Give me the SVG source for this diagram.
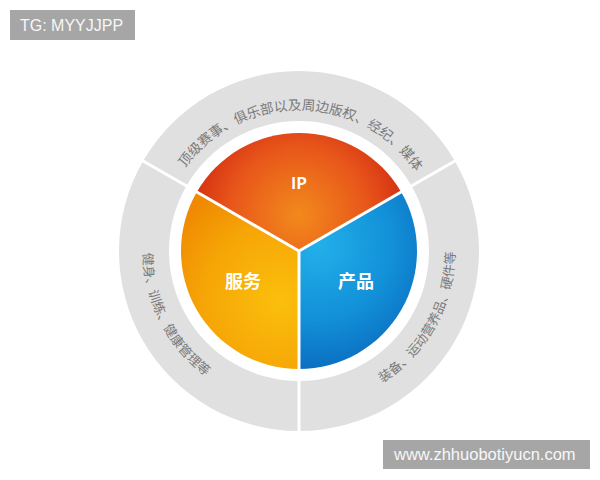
<svg xmlns="http://www.w3.org/2000/svg" width="600" height="480" viewBox="0 0 600 480">
<style>
.arc{font-family:"Noto Sans CJK SC","Noto Sans",sans-serif;fill:#7a7a7a;}
.lbl{font-family:"Noto Sans CJK SC","Noto Sans",sans-serif;font-weight:bold;fill:#ffffff;text-anchor:middle;}
.tag{font-family:"Liberation Sans",Arial,sans-serif;fill:#f7f7f7;}
.sep{stroke:#ffffff;stroke-width:3;fill:none;}
</style>
<defs>
<radialGradient id="gIP" gradientUnits="userSpaceOnUse" cx="299" cy="215" r="125">
<stop offset="0" stop-color="#f28a1c"/>
<stop offset="0.55" stop-color="#e8561a"/>
<stop offset="1" stop-color="#cc1f10"/>
</radialGradient>
<radialGradient id="gSV" gradientUnits="userSpaceOnUse" cx="280" cy="300" r="125">
<stop offset="0" stop-color="#fbbf0c"/>
<stop offset="0.6" stop-color="#f6a606"/>
<stop offset="1" stop-color="#ef8a02"/>
</radialGradient>
<radialGradient id="gPR" gradientUnits="userSpaceOnUse" cx="318" cy="245" r="135">
<stop offset="0" stop-color="#22b0ea"/>
<stop offset="0.55" stop-color="#1290d8"/>
<stop offset="1" stop-color="#0a68bc"/>
</radialGradient>
<path id="pTop" d="M160.14,226.52 A141,141 0 0 1 438.63,231.38"/>
<path id="pRight" d="M274.60,405.08 A156,156 0 0 0 416.73,148.65"/>
<path id="pLeft" d="M184.90,144.61 A156,156 0 0 0 318.01,405.83"/>
</defs>
<rect width="600" height="480" fill="#ffffff"/>

<g id="ring">
<path d="M299,71 A180,180 0 1 1 298.99,71 Z M299,121 A130,130 0 1 0 299.01,121 Z" fill="#e0e0e0" fill-rule="evenodd"/>
</g>

<g id="connectors">
<line class="sep" x1="299" y1="377" x2="299" y2="434"/>
<line class="sep" x1="188.42" y1="187" x2="139.6" y2="159"/>
<line class="sep" x1="409.58" y1="187" x2="458.4" y2="159"/>
</g>

<g id="node-ip">
<path d="M299,251 L196.81,192 A118,118 0 0 1 401.19,192 Z" fill="url(#gIP)"/>
<text class="lbl" x="299" y="189" font-size="16">IP</text>
</g>
<g id="node-service">
<path d="M299,251 L299,369 A118,118 0 0 1 196.81,192 Z" fill="url(#gSV)"/>
<text class="lbl" x="243" y="288" font-size="18">服务</text>
</g>
<g id="node-product">
<path d="M299,251 L401.19,192 A118,118 0 0 1 299,369 Z" fill="url(#gPR)"/>
<text class="lbl" x="356" y="288" font-size="18">产品</text>
</g>
<g id="pie-lines">
<line class="sep" x1="299" y1="251" x2="299" y2="370"/>
<line class="sep" x1="299" y1="251" x2="196" y2="191.5"/>
<line class="sep" x1="299" y1="251" x2="402" y2="191.5"/>
</g>

<g id="label-top">
<text class="arc" font-size="13.5"><textPath href="#pTop" startOffset="50%" text-anchor="middle">顶级赛事、俱乐部以及周边版权、经纪、媒体</textPath></text>
</g>
<g id="label-left">
<text class="arc" font-size="13"><textPath href="#pLeft" startOffset="50%" text-anchor="middle">健身、训练、健康管理等</textPath></text>
</g>
<g id="label-right">
<text class="arc" font-size="13"><textPath href="#pRight" startOffset="50%" text-anchor="middle">装备、运动营养品、硬件等</textPath></text>
</g>

<g id="tag-top">
<rect x="10" y="10" width="125" height="30" fill="#a6a6a6"/>
<text class="tag" x="20" y="30.5" font-size="16">TG: MYYJJPP</text>
</g>
<g id="tag-bottom">
<rect x="383" y="440" width="207" height="29" fill="#a6a6a6"/>
<text class="tag" x="394" y="460" font-size="16.5">www.zhhuobotiyucn.com</text>
</g>
</svg>
